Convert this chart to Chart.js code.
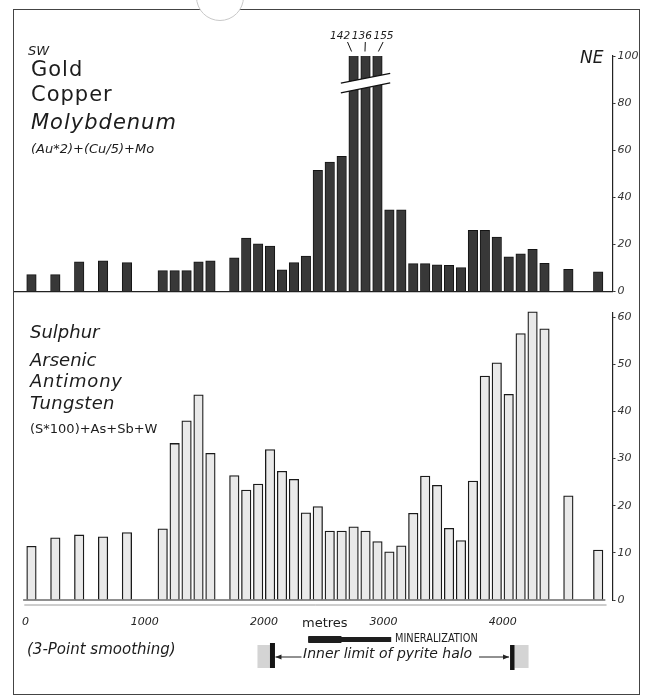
<!DOCTYPE html>
<html>
<head>
<meta charset="utf-8">
<script src="https://cdn.jsdelivr.net/npm/chart.js@4.4.1/dist/chart.umd.min.js"></script>
<style>
  html, body { margin: 0; padding: 0; background: #fff; }
  #page { position: relative; width: 646px; height: 698px; overflow: hidden; font-family: 'DejaVu Sans', sans-serif; color: #1c1c1c; }
  canvas { position: absolute; left: 0; }
  #frame { position: absolute; left: 13px; top: 9px; width: 627px; height: 686px; box-sizing: border-box; border: 1.4px solid #444; }
  #notch { position: absolute; left: 196px; top: -27px; width: 46px; height: 46px; border-radius: 50%; border: 1px solid #c8c8c8; background: #fff; }
  .t { position: absolute; white-space: nowrap; line-height: 1; }
  .i { font-style: italic; }
  .big { font-size: 21px; letter-spacing: 1px; }
</style>
</head>
<body>
<div id="page">
  <canvas id="metals" width="646" height="300" style="top:0"></canvas>
  <canvas id="sulphides" width="646" height="398" style="top:300px"></canvas>
  <div id="frame"></div>
  <div id="notch"></div>

  <div class="t i" style="left:28px;top:44px;font-size:13px">SW</div>
  <div class="t big" style="left:31px;top:59px">Gold</div>
  <div class="t big" style="left:31px;top:84px">Copper</div>
  <div class="t i big" style="left:31px;top:112px">Molybdenum</div>
  <div class="t i" style="left:31px;top:142px;font-size:13px">(Au*2)+(Cu/5)+Mo</div>
  <div class="t i" style="left:580px;top:49px;font-size:17px">NE</div>

  <div class="t i" style="left:30px;top:323px;font-size:18px">Sulphur</div>
  <div class="t i" style="left:30px;top:351px;font-size:18px">Arsenic</div>
  <div class="t i" style="left:30px;top:372px;font-size:18px;letter-spacing:0.8px">Antimony</div>
  <div class="t i" style="left:30px;top:394px;font-size:18px;letter-spacing:0.3px">Tungsten</div>
  <div class="t" style="left:30px;top:422px;font-size:13px">(S*100)+As+Sb+W</div>

  <div class="t" style="left:302px;top:616px;font-size:13px">metres</div>
  <div class="t" style="left:395px;top:633px;font-size:11.5px;transform:scaleX(0.85);transform-origin:left">MINERALIZATION</div>
  <div class="t i" style="left:27px;top:642px;font-size:15px">(3-Point smoothing)</div>
  <div class="t i" style="left:303px;top:646px;font-size:14px">Inner limit of pyrite halo</div>
</div>

<script>
// sample stations along the traverse (metres)
const stations = [50, 250, 450, 650, 850, 1150, 1250, 1350, 1450, 1550,
  1750, 1850, 1950, 2050, 2150, 2250, 2350, 2450, 2550, 2650, 2750, 2850, 2950,
  3050, 3150, 3250, 3350, 3450, 3550, 3650, 3750, 3850, 3950, 4050, 4150, 4250, 4350,
  4550, 4800];

// (Au*2)+(Cu/5)+Mo
const metalIndex = [7.1, 7.1, 12.6, 13.0, 12.2, 8.8, 8.8, 8.8, 12.6, 13.0,
  14.3, 22.7, 20.2, 19.3, 9.2, 12.2, 15.0, 51.4, 54.9, 57.4, 142, 136, 155,
  34.7, 34.7, 11.8, 11.8, 11.3, 11.1, 10.1, 25.9, 25.9, 23.1, 14.7, 16.0, 17.9, 11.9,
  9.4, 8.3];

// (S*100)+As+Sb+W
const sulphideIndex = [11.4, 13.2, 13.8, 13.4, 14.3, 15.1, 33.2, 38.0, 43.5, 31.1,
  26.4, 23.3, 24.6, 31.9, 27.3, 25.6, 18.5, 19.8, 14.6, 14.6, 15.5, 14.6, 12.4,
  10.2, 11.5, 18.4, 26.3, 24.3, 15.2, 12.6, 25.2, 47.5, 50.3, 43.6, 56.5, 61.1, 57.5,
  22.1, 10.6];

const metalTicks = [0, 20, 40, 60, 80, 100];
const sulphideTicks = [0, 10, 20, 30, 40, 50, 60];
const distanceTicks = [0, 1000, 2000, 3000, 4000];

const mineralization = [2370, 3065];   // metres
const haloLimits = [2070, 4078];       // inner limit of pyrite halo, metres
const metalMax = 100;                  // top axis cut, taller bars are broken
const breakAt = 88.5;

const tickFont = { family: 'DejaVu Sans', size: 11, style: 'italic' };

function xAxis(showLabels, height) {
  return {
    type: 'linear', min: -100, max: 4920, offset: false,
    grid: { display: false, drawTicks: false },
    border: { display: !showLabels, color: '#222', width: 1.2 },
    ticks: {
      display: showLabels, padding: 16, autoSkip: false, maxRotation: 0,
      color: '#222', font: tickFont, callback: v => String(v)
    },
    afterBuildTicks: s => { s.ticks = distanceTicks.map(v => ({ value: v })); },
    afterFit: s => { s.height = height; }
  };
}

function yAxis(max, ticks) {
  return {
    position: 'right', min: 0, max: max,
    grid: { drawOnChartArea: false, tickLength: 3, color: '#333' },
    border: { display: true, color: '#222', width: 1.2 },
    ticks: { padding: 2, color: '#333', font: tickFont, callback: v => String(v) },
    afterBuildTicks: s => { s.ticks = ticks.map(v => ({ value: v })); },
    afterFit: s => { s.width = 28; }
  };
}

// break marks and true values for bars above the axis cut
const breakPlugin = {
  id: 'breakPlugin',
  afterDatasetsDraw(chart) {
    const meta = chart.getDatasetMeta(0);
    const y = chart.scales.y;
    const broken = [];
    metalIndex.forEach((v, i) => { if (v > metalMax) broken.push(i); });
    if (!broken.length) return;
    const ctx = chart.ctx;
    const b0 = meta.data[broken[0]], b1 = meta.data[broken[broken.length - 1]];
    const xl = b0.x - b0.width / 2 - 8, xr = b1.x + b1.width / 2 + 8;
    const yc = y.getPixelForValue(breakAt);
    const rise = (xr - xl) * 0.1, half = 4.8;
    ctx.save();
    ctx.fillStyle = '#fff';
    ctx.beginPath();
    ctx.moveTo(xl, yc + rise - half);
    ctx.lineTo(xr, yc - rise - half);
    ctx.lineTo(xr, yc - rise + half);
    ctx.lineTo(xl, yc + rise + half);
    ctx.closePath();
    ctx.fill();
    ctx.strokeStyle = '#111';
    ctx.lineWidth = 1.3;
    ctx.beginPath();
    ctx.moveTo(xl, yc + rise - half); ctx.lineTo(xr, yc - rise - half);
    ctx.moveTo(xl, yc + rise + half); ctx.lineTo(xr, yc - rise + half);
    ctx.stroke();

    ctx.font = 'italic 10.5px DejaVu Sans';
    ctx.fillStyle = '#1c1c1c';
    ctx.textAlign = 'center';
    ctx.textBaseline = 'middle';
    const mid = meta.data[broken[Math.floor(broken.length / 2)]];
    ctx.lineWidth = 1;
    broken.forEach((idx, j) => {
      const bar = meta.data[idx];
      const lx = mid.x - 3.7 + (j - (broken.length - 1) / 2) * 21.7;
      ctx.fillText(String(metalIndex[idx]), lx, 36.5);
      ctx.beginPath();
      ctx.moveTo(lx + 0.4 * (bar.x - lx) + 2, 42);
      ctx.lineTo(bar.x - 0.15 * (bar.x - lx), 51.5);
      ctx.stroke();
    });
    ctx.restore();
  }
};

// baseline, mineralized zone and pyrite halo limits under the lower chart
const traversePlugin = {
  id: 'traversePlugin',
  afterDatasetsDraw(chart) {
    const ctx = chart.ctx, x = chart.scales.x;
    const bottom = chart.chartArea.bottom;
    ctx.save();
    ctx.strokeStyle = '#222';
    ctx.lineWidth = 1.2;
    ctx.beginPath();
    ctx.moveTo(x.getPixelForValue(-20), bottom);
    ctx.lineTo(x.getPixelForValue(4860), bottom);
    ctx.stroke();
    ctx.strokeStyle = '#9a9a9a';
    ctx.lineWidth = 1;
    ctx.beginPath();
    ctx.moveTo(x.getPixelForValue(-10), bottom + 5);
    ctx.lineTo(x.getPixelForValue(4870), bottom + 5);
    ctx.stroke();

    // mineralization bar
    const m0 = x.getPixelForValue(mineralization[0]);
    const m1 = x.getPixelForValue(mineralization[1]);
    ctx.fillStyle = '#1e1e1e';
    ctx.fillRect(m0, bottom + 36, (m1 - m0) * 0.4, 7);
    ctx.fillRect(m0, bottom + 37, m1 - m0, 5);

    // pyrite halo limits
    const h0 = x.getPixelForValue(haloLimits[0]);
    const h1 = x.getPixelForValue(haloLimits[1]);
    ctx.fillStyle = '#d4d4d4';
    ctx.fillRect(h0 - 15, bottom + 45, 12.5, 23);
    ctx.fillRect(h1 + 2.5, bottom + 45, 14, 23);
    ctx.fillStyle = '#151515';
    ctx.fillRect(h0 - 2.5, bottom + 43, 5, 25);
    ctx.fillRect(h1 - 2, bottom + 45, 4.5, 25);

    ctx.strokeStyle = '#222';
    ctx.lineWidth = 1;
    const ay = bottom + 57;
    ctx.beginPath();
    ctx.moveTo(h0 + 3, ay); ctx.lineTo(h0 + 29, ay);
    ctx.moveTo(h1 - 33, ay); ctx.lineTo(h1 - 3, ay);
    ctx.stroke();
    ctx.fillStyle = '#222';
    ctx.beginPath();
    ctx.moveTo(h0 + 3, ay); ctx.lineTo(h0 + 9, ay - 2.5); ctx.lineTo(h0 + 9, ay + 2.5); ctx.closePath();
    ctx.moveTo(h1 - 3, ay); ctx.lineTo(h1 - 9, ay - 2.5); ctx.lineTo(h1 - 9, ay + 2.5); ctx.closePath();
    ctx.fill();
    ctx.restore();
  }
};

const common = {
  animation: false,
  responsive: false,
  maintainAspectRatio: false,
  plugins: { legend: { display: false }, tooltip: { enabled: false } }
};

new Chart(document.getElementById('metals').getContext('2d'), {
  type: 'bar',
  data: {
    datasets: [{
      data: stations.map((m, i) => ({ x: m, y: metalIndex[i] })),
      backgroundColor: '#383838',
      borderColor: '#141414',
      borderWidth: 1,
      barThickness: 9.5
    }]
  },
  options: Object.assign({}, common, {
    layout: { padding: { left: 13.57, right: 5.5, top: 56, bottom: 0 } },
    scales: { x: xAxis(false, 6), y: yAxis(metalMax, metalTicks) }
  }),
  plugins: [breakPlugin]
});

new Chart(document.getElementById('sulphides').getContext('2d'), {
  type: 'bar',
  data: {
    datasets: [{
      data: stations.map((m, i) => ({ x: m, y: sulphideIndex[i] })),
      backgroundColor: '#e9e9e9',
      borderColor: '#1a1a1a',
      borderWidth: 1.3,
      barThickness: 9.5,
      clip: false
    }]
  },
  options: Object.assign({}, common, {
    layout: { padding: { left: 13.57, right: 5.5, top: 12.3, bottom: 0 } },
    scales: { x: xAxis(true, 98), y: yAxis(61, sulphideTicks) }
  }),
  plugins: [traversePlugin]
});
</script>
</body>
</html>
